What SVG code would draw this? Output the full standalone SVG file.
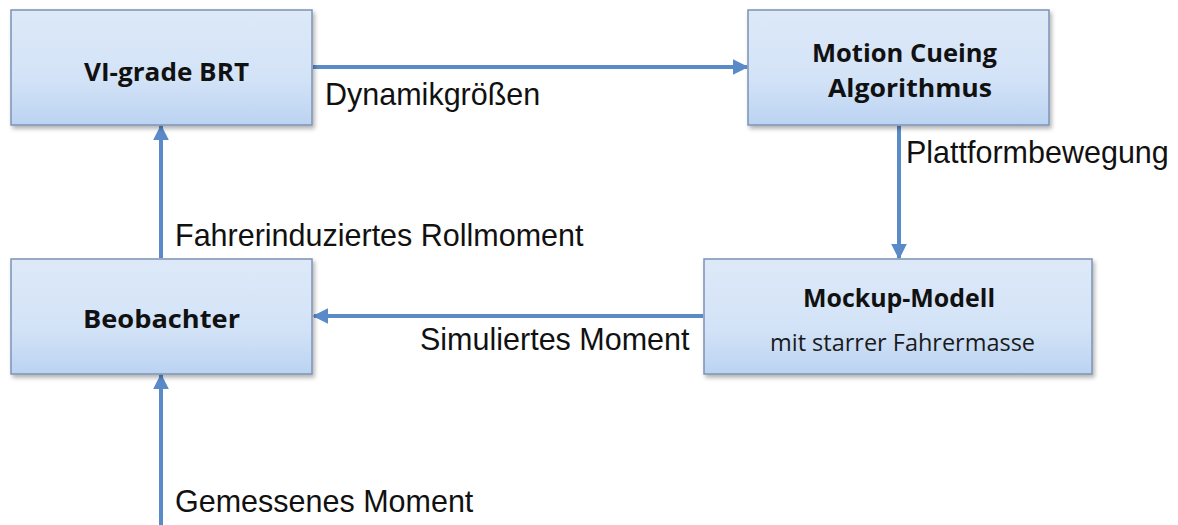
<svg xmlns="http://www.w3.org/2000/svg" width="1178" height="525" viewBox="0 0 1178 525">
  <defs>
    <linearGradient id="boxFill" x1="0" y1="0" x2="0" y2="1">
      <stop offset="0" stop-color="#dde9f8"/>
      <stop offset="0.6" stop-color="#d3e3f7"/>
      <stop offset="1" stop-color="#bbd3f2"/>
    </linearGradient>
    <filter id="shadow" x="-5%" y="-10%" width="115%" height="130%">
      <feDropShadow dx="2" dy="3" stdDeviation="2" flood-color="#000" flood-opacity="0.3"/>
    </filter>
    <marker id="arrow" viewBox="0 0 10 10" refX="9" refY="5" markerWidth="4" markerHeight="4" orient="auto" markerUnits="strokeWidth">
      <path d="M0,0 L10,5 L0,10 z" fill="#5a8bc8"/>
    </marker>
  </defs>
  <style>
    .box { fill: url(#boxFill); stroke: #7c93b5; stroke-width: 1.5; filter: url(#shadow); }
    .title { font-family: "Open Sans", "Liberation Sans", sans-serif; font-weight: bold; font-size: 25.5px; fill: #111; }
    .sub { font-family: "Open Sans", "Liberation Sans", sans-serif; font-size: 23.5px; fill: #1a1a1a; }
    .edge { stroke: #5a8bc8; stroke-width: 4; fill: none; marker-end: url(#arrow); }
    .label { font-family: "Liberation Sans", Arial, sans-serif; font-size: 30.5px; fill: #111; }
  </style>

  <rect width="1178" height="525" fill="#fff"/>

  <g id="connectors">
    <line class="edge" x1="313" y1="67" x2="747" y2="67"/>
    <line class="edge" x1="899" y1="126" x2="899" y2="258"/>
    <line class="edge" x1="703" y1="316" x2="314" y2="316"/>
    <line class="edge" x1="161" y1="258" x2="161" y2="126"/>
    <line class="edge" x1="161" y1="525" x2="161" y2="375"/>
    <text class="label" x="325" y="105">Dynamikgrößen</text>
    <text class="label" x="906" y="163">Plattformbewegung</text>
    <text class="label" x="175" y="246">Fahrerinduziertes Rollmoment</text>
    <text class="label" x="420" y="350">Simuliertes Moment</text>
    <text class="label" x="175" y="512">Gemessenes Moment</text>
  </g>

  <g id="vi-grade-brt">
    <rect class="box" x="11" y="10" width="301" height="115"/>
    <text class="title" x="84" y="81" textLength="165" lengthAdjust="spacingAndGlyphs">VI-grade BRT</text>
  </g>

  <g id="motion-cueing">
    <rect class="box" x="748" y="10" width="301" height="115"/>
    <text class="title" x="812" y="62" textLength="185" lengthAdjust="spacingAndGlyphs">Motion Cueing</text>
    <text class="title" x="828" y="97" textLength="164" lengthAdjust="spacingAndGlyphs">Algorithmus</text>
  </g>

  <g id="mockup-modell">
    <rect class="box" x="704" y="259" width="388" height="115"/>
    <text class="title" x="803" y="307" textLength="192" lengthAdjust="spacingAndGlyphs">Mockup-Modell</text>
    <text class="sub" x="770" y="351" textLength="265" lengthAdjust="spacingAndGlyphs">mit starrer Fahrermasse</text>
  </g>

  <g id="beobachter">
    <rect class="box" x="11" y="259" width="301" height="115"/>
    <text class="title" x="83" y="328" textLength="157" lengthAdjust="spacingAndGlyphs">Beobachter</text>
  </g>
</svg>
